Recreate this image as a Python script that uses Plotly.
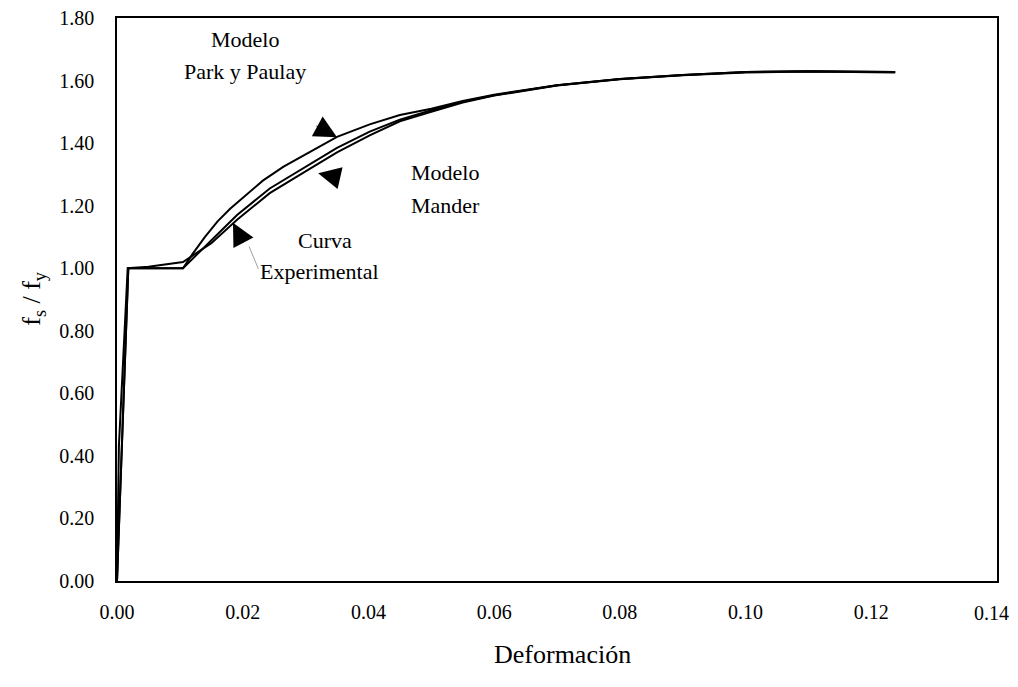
import plotly.graph_objects as go

# Strain (Deformación) and normalised stress fs/fy for the three curves
eps_park = [0.0, 0.0018, 0.0105, 0.012, 0.014, 0.016, 0.018, 0.020, 0.0232, 0.0265, 0.0296,
            0.035, 0.0402, 0.045, 0.050, 0.055, 0.060, 0.070, 0.080, 0.090, 0.100, 0.110, 0.1238]
fs_park = [0.0, 1.00, 1.00, 1.045, 1.10, 1.15, 1.19, 1.225, 1.28, 1.325, 1.36,
           1.42, 1.46, 1.49, 1.51, 1.535, 1.555, 1.585, 1.605, 1.618, 1.627, 1.630, 1.627]

eps_mander = [0.0, 0.0018, 0.0105, 0.015, 0.0191, 0.0243, 0.0296, 0.035, 0.0402, 0.045,
              0.050, 0.055, 0.060, 0.070, 0.080, 0.090, 0.100, 0.110, 0.1238]
fs_mander = [0.0, 1.00, 1.00, 1.09, 1.17, 1.255, 1.32, 1.385, 1.437, 1.475,
             1.505, 1.532, 1.553, 1.585, 1.605, 1.618, 1.627, 1.630, 1.627]

eps_exp = [0.0, 0.0003, 0.0017, 0.005, 0.0105, 0.015, 0.0191, 0.0243, 0.0296, 0.035, 0.0402,
           0.045, 0.050, 0.055, 0.060, 0.070, 0.080, 0.090, 0.100, 0.110, 0.1238]
fs_exp = [0.0, 0.43, 1.00, 1.005, 1.02, 1.08, 1.155, 1.24, 1.305, 1.37, 1.425,
          1.47, 1.50, 1.53, 1.552, 1.584, 1.604, 1.617, 1.626, 1.629, 1.626]

x_ticks = [0.0, 0.02, 0.04, 0.06, 0.08, 0.10, 0.12, 0.14]
x_tick_labels = ["0.00", "0.02", "0.04", "0.06", "0.08", "0.10", "0.12", "0.14"]
y_ticks = [0.0, 0.2, 0.4, 0.6, 0.8, 1.0, 1.2, 1.4, 1.6, 1.8]
y_tick_labels = ["0.00", "0.20", "0.40", "0.60", "0.80", "1.00", "1.20", "1.40", "1.60", "1.80"]

FONT = "Liberation Serif, Times New Roman, serif"

fig = go.Figure()
for xs, ys, name in [(eps_park, fs_park, "Modelo Park y Paulay"),
                     (eps_mander, fs_mander, "Modelo Mander"),
                     (eps_exp, fs_exp, "Curva Experimental")]:
    fig.add_trace(go.Scatter(x=xs, y=ys, mode="lines", name=name,
                             line=dict(color="black", width=2), showlegend=False))

TXT = dict(family=FONT, size=22, color="black")
annotations = [
    dict(x=0.0204, y=1.732, text="Modelo", showarrow=False, font=TXT),
    dict(x=0.0204, y=1.628, text="Park y Paulay", showarrow=False, font=TXT),
    dict(x=0.0522, y=1.307, text="Modelo", showarrow=False, font=TXT),
    dict(x=0.0522, y=1.202, text="Mander", showarrow=False, font=TXT),
    dict(x=0.0331, y=1.090, text="Curva", showarrow=False, font=TXT),
    dict(x=0.0322, y=0.988, text="Experimental", showarrow=False, font=TXT),
    # arrows
    dict(x=0.035, y=1.419, text="", showarrow=True, arrowhead=2, arrowsize=4.5,
         arrowwidth=1, arrowcolor="black", ax=-22, ay=-12),
    dict(x=0.032, y=1.304, text="", showarrow=True, arrowhead=2, arrowsize=4.5,
         arrowwidth=1, arrowcolor="black", ax=22, ay=5),
    dict(x=0.0210, y=1.07, text="", showarrow=True, arrowhead=0,
         arrowwidth=0.8, arrowcolor="#888888", ax=10, ay=24),
    dict(x=0.01845, y=1.145, text="", showarrow=True, arrowhead=2, arrowsize=4.5,
         arrowwidth=1, arrowcolor="black", ax=11, ay=21),
    # last x tick label (placed as annotation so it is not clipped at the page edge)
    dict(x=x_ticks[-1], yref="paper", y=-0.057, text=x_tick_labels[-1], showarrow=False,
         xanchor="center", yanchor="middle", xshift=-6,
         font=dict(family=FONT, size=20, color="black")),
    # axis titles
    dict(xref="paper", yref="paper", x=-0.0955, y=0.503, text="f<sub>s</sub> / f<sub>y</sub>",
         textangle=-90, showarrow=False, xanchor="center", yanchor="middle",
         font=dict(family=FONT, size=26, color="black")),
    dict(xref="paper", yref="paper", x=0.5057, y=-0.131, text="Deformación",
         showarrow=False, xanchor="center", yanchor="middle",
         font=dict(family=FONT, size=26, color="black")),
]
for a in annotations:
    a.setdefault("xref", "x")
    a.setdefault("yref", "y")

x_tick_text_axis = x_tick_labels[:-1] + [""]

fig.update_layout(
    width=1010, height=671,
    margin=dict(l=109, r=21, t=10, b=98, autoexpand=False),
    paper_bgcolor="white", plot_bgcolor="white",
    font=dict(family=FONT, color="black", size=20),
    annotations=annotations,
    xaxis=dict(range=[0, 0.14], tickvals=x_ticks, ticktext=x_tick_text_axis,
               showgrid=False, zeroline=False, showline=True, linecolor="black",
               linewidth=1.5, mirror=True, ticks="", ticklen=0, ticklabelstandoff=12,
               ticklabeloverflow="allow", tickfont=dict(family=FONT, size=20)),
    yaxis=dict(range=[0, 1.8], tickvals=y_ticks, ticktext=y_tick_labels,
               showgrid=False, zeroline=False, showline=True, linecolor="black",
               linewidth=1.5, mirror=True, ticks="", ticklen=0, ticklabelstandoff=17,
               ticklabeloverflow="allow", tickfont=dict(family=FONT, size=20)),
)

fig.write_html("out.html")
